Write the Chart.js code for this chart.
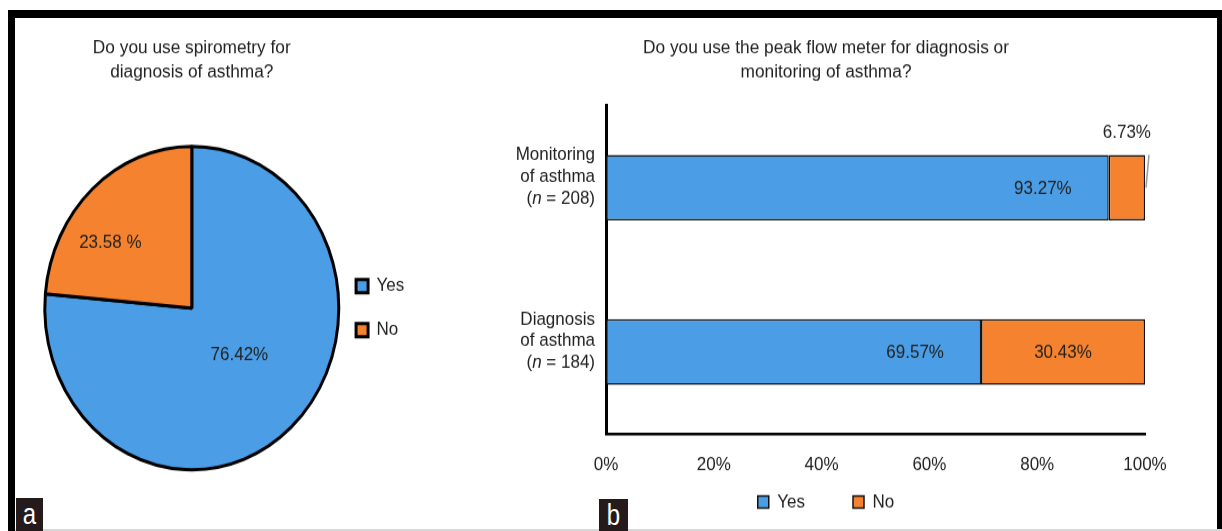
<!DOCTYPE html>
<html><head><meta charset="utf-8">
<script src="https://cdn.jsdelivr.net/npm/chart.js@4.4.1/dist/chart.umd.min.js"></script>
<style>
html,body{margin:0;padding:0;background:#fff;width:1222px;height:531px;overflow:hidden;position:relative}
.blk{position:absolute;background:#000}
canvas{position:absolute;transform-origin:0 0;transform:scaleY(1.1)}
.tag{position:absolute;background:#261b1c;color:#fff;font:24px 'Liberation Sans',Arial,sans-serif;text-align:center;line-height:32px;overflow:hidden}
.tag span{display:inline-block;transform:scaleY(1.25)}
</style></head><body>
<div class="blk" style="left:8px;top:10px;width:1214px;height:8px"></div>
<div class="blk" style="left:8px;top:10px;width:7px;height:521px"></div>
<div class="blk" style="left:1217px;top:10px;width:5px;height:519px"></div>
<div style="position:absolute;left:15px;top:529px;width:1207px;height:2px;background:#d8d8d8"></div>
<canvas id="pie" width="420" height="466" style="left:16px;top:18px"></canvas>
<canvas id="bar" width="776" height="466" style="left:440px;top:18px"></canvas>
<div class="tag" style="left:16px;top:498px;width:27px;height:33px"><span>a</span></div>
<div class="tag" style="left:599px;top:499px;width:29px;height:32px"><span>b</span></div>
<script>
// ---- data ----
const pieCategories = ['Yes', 'No'];
const pieValues = [76.42, 23.58];
const pieValueSuffix = ['%', ' %'];
const pieTitle = ['Do you use spirometry for', 'diagnosis of asthma?'];

const barCategories = ['Monitoring of asthma', 'Diagnosis of asthma'];
const barCategoryLines = [['Monitoring', 'of asthma'], ['Diagnosis', 'of asthma']];
const barSampleSizes = [208, 184];
const seriesNames = ['Yes', 'No'];
const yesValues = [93.27, 69.57];
const noValues = [6.73, 30.43];
const xTickValues = [0, 20, 40, 60, 80, 100];
const barTitle = ['Do you use the peak flow meter for diagnosis or', 'monitoring of asthma?'];

// ---- styling ----
const BLUE = '#4b9de5';
const ORANGE = '#f5822f';
const FONT = "'Liberation Sans', Arial, sans-serif";
const TXT = '#222';
Chart.defaults.font.family = FONT;
Chart.defaults.font.size = 17;
Chart.defaults.color = TXT;

const pieLabelOffsets = [[0.324, 0.289], [-0.554, -0.405]];
const noLabelPlacement = ['above', 'center'];

const sliceLabels = {
  id: 'sliceLabels',
  afterDatasetsDraw(chart) {
    const ctx = chart.ctx;
    const meta = chart.getDatasetMeta(0);
    ctx.save();
    ctx.font = '17px ' + FONT;
    ctx.fillStyle = TXT;
    ctx.textAlign = 'center';
    ctx.textBaseline = 'middle';
    meta.data.forEach((arc, i) => {
      const p = arc.getProps(['x', 'y', 'outerRadius'], true);
      const o = pieLabelOffsets[i];
      ctx.fillText(pieValues[i].toFixed(2) + pieValueSuffix[i], p.x + p.outerRadius * o[0], p.y + p.outerRadius * o[1]);
    });
    ctx.restore();
  }
};

new Chart(document.getElementById('pie'), {
  type: 'pie',
  data: {
    labels: pieCategories,
    datasets: [{
      data: pieValues,
      backgroundColor: [BLUE, ORANGE],
      borderColor: '#000',
      borderWidth: 3
    }]
  },
  options: {
    responsive: false,
    animation: false,
    devicePixelRatio: 1,
    radius: 147,
    layout: { padding: { left: 34.5, right: 21.7, top: 0, bottom: 54.4 } },
    plugins: {
      title: {
        display: true, text: pieTitle, fullSize: false, color: TXT,
        font: { size: 17.3, weight: 'normal', lineHeight: 1.28 },
        padding: { top: 16, bottom: 55.6 }
      },
      legend: {
        position: 'right', fullSize: false,
        labels: { boxWidth: 12, boxHeight: 12, padding: 23, color: TXT, font: { size: 17 } }
      },
      tooltip: { enabled: false }
    }
  },
  plugins: [sliceLabels]
});

const barLabels = {
  id: 'barLabels',
  afterDatasetsDraw(chart) {
    const ctx = chart.ctx;
    ctx.save();
    ctx.font = '17px ' + FONT;
    ctx.fillStyle = TXT;
    ctx.textBaseline = 'middle';
    chart.getDatasetMeta(0).data.forEach((b, i) => {
      const p = b.getProps(['x', 'y', 'base'], true);
      ctx.textAlign = 'right';
      ctx.fillText(yesValues[i].toFixed(2) + '%', p.x - 37, p.y + 1);
    });
    chart.getDatasetMeta(1).data.forEach((b, i) => {
      const p = b.getProps(['x', 'y', 'base', 'height'], true);
      ctx.textAlign = 'center';
      const txt = noValues[i].toFixed(2) + '%';
      const cx = (p.x + p.base) / 2;
      if (noLabelPlacement[i] === 'above') {
        const top = p.y - p.height / 2;
        ctx.fillText(txt, cx, top - 20);
        ctx.strokeStyle = '#9a9a9a';
        ctx.lineWidth = 1.5;
        ctx.beginPath();
        ctx.moveTo(p.x + 4, top);
        ctx.lineTo(p.x + 1, p.y);
        ctx.stroke();
      } else {
        ctx.fillText(txt, cx, p.y + 1);
      }
    });
    ctx.restore();
  }
};

const categoryLabels = {
  id: 'categoryLabels',
  afterDraw(chart) {
    const ctx = chart.ctx;
    const ys = chart.scales.y;
    const xr = chart.chartArea.left - 11;
    const lh = 19.7;
    ctx.save();
    ctx.fillStyle = TXT;
    ctx.textBaseline = 'middle';
    barCategories.forEach((c, i) => {
      const cy = ys.getPixelForValue(i) - 10;
      const lines = barCategoryLines[i];
      ctx.font = '17px ' + FONT;
      ctx.textAlign = 'right';
      ctx.fillText(lines[0], xr, cy - lh);
      ctx.fillText(lines[1], xr, cy);
      const a = '(', n = 'n', rest = ' = ' + barSampleSizes[i] + ')';
      ctx.font = '17px ' + FONT;
      const wa = ctx.measureText(a).width, wr = ctx.measureText(rest).width;
      ctx.font = 'italic 17px ' + FONT;
      const wn = ctx.measureText(n).width;
      let x = xr - (wa + wn + wr);
      ctx.textAlign = 'left';
      ctx.font = '17px ' + FONT;
      ctx.fillText(a, x, cy + lh); x += wa;
      ctx.font = 'italic 17px ' + FONT;
      ctx.fillText(n, x, cy + lh); x += wn;
      ctx.font = '17px ' + FONT;
      ctx.fillText(rest, x, cy + lh);
    });
    ctx.restore();
  }
};

new Chart(document.getElementById('bar'), {
  type: 'bar',
  data: {
    labels: barCategories,
    datasets: [
      { label: seriesNames[0], data: yesValues, backgroundColor: BLUE },
      { label: seriesNames[1], data: noValues, backgroundColor: ORANGE }
    ]
  },
  options: {
    indexAxis: 'y',
    responsive: false,
    animation: false,
    devicePixelRatio: 1,
    datasets: {
      bar: { barPercentage: 0.4, categoryPercentage: 1, borderColor: '#111', borderWidth: 1.5, borderSkipped: false }
    },
    layout: { padding: { left: 67, right: 71, top: 0, bottom: 7.5 } },
    scales: {
      x: {
        stacked: true, min: 0, max: 100,
        grid: { display: false, drawTicks: false },
        border: { display: true, color: '#000', width: 2.5 },
        ticks: { mirror: true, padding: -38.4, color: TXT, font: { size: 17 }, callback: v => v + '%' },
        afterBuildTicks: s => { s.ticks = xTickValues.map(v => ({ value: v })); },
        afterFit: s => { s.height = 5.3; }
      },
      y: {
        stacked: true,
        grid: { display: false, drawTicks: false },
        border: { display: true, color: '#000', width: 3 },
        ticks: { display: false },
        afterFit: s => { s.width = 99; }
      }
    },
    plugins: {
      title: {
        display: true, text: barTitle, color: TXT,
        font: { size: 17.3, weight: 'normal', lineHeight: 1.28 },
        padding: { top: 16, bottom: 19.3 }
      },
      legend: {
        position: 'bottom',
        labels: { boxWidth: 11, boxHeight: 11, padding: 48, color: TXT, font: { size: 17 } }
      },
      tooltip: { enabled: false }
    }
  },
  plugins: [barLabels, categoryLabels]
});
</script>
</body></html>
